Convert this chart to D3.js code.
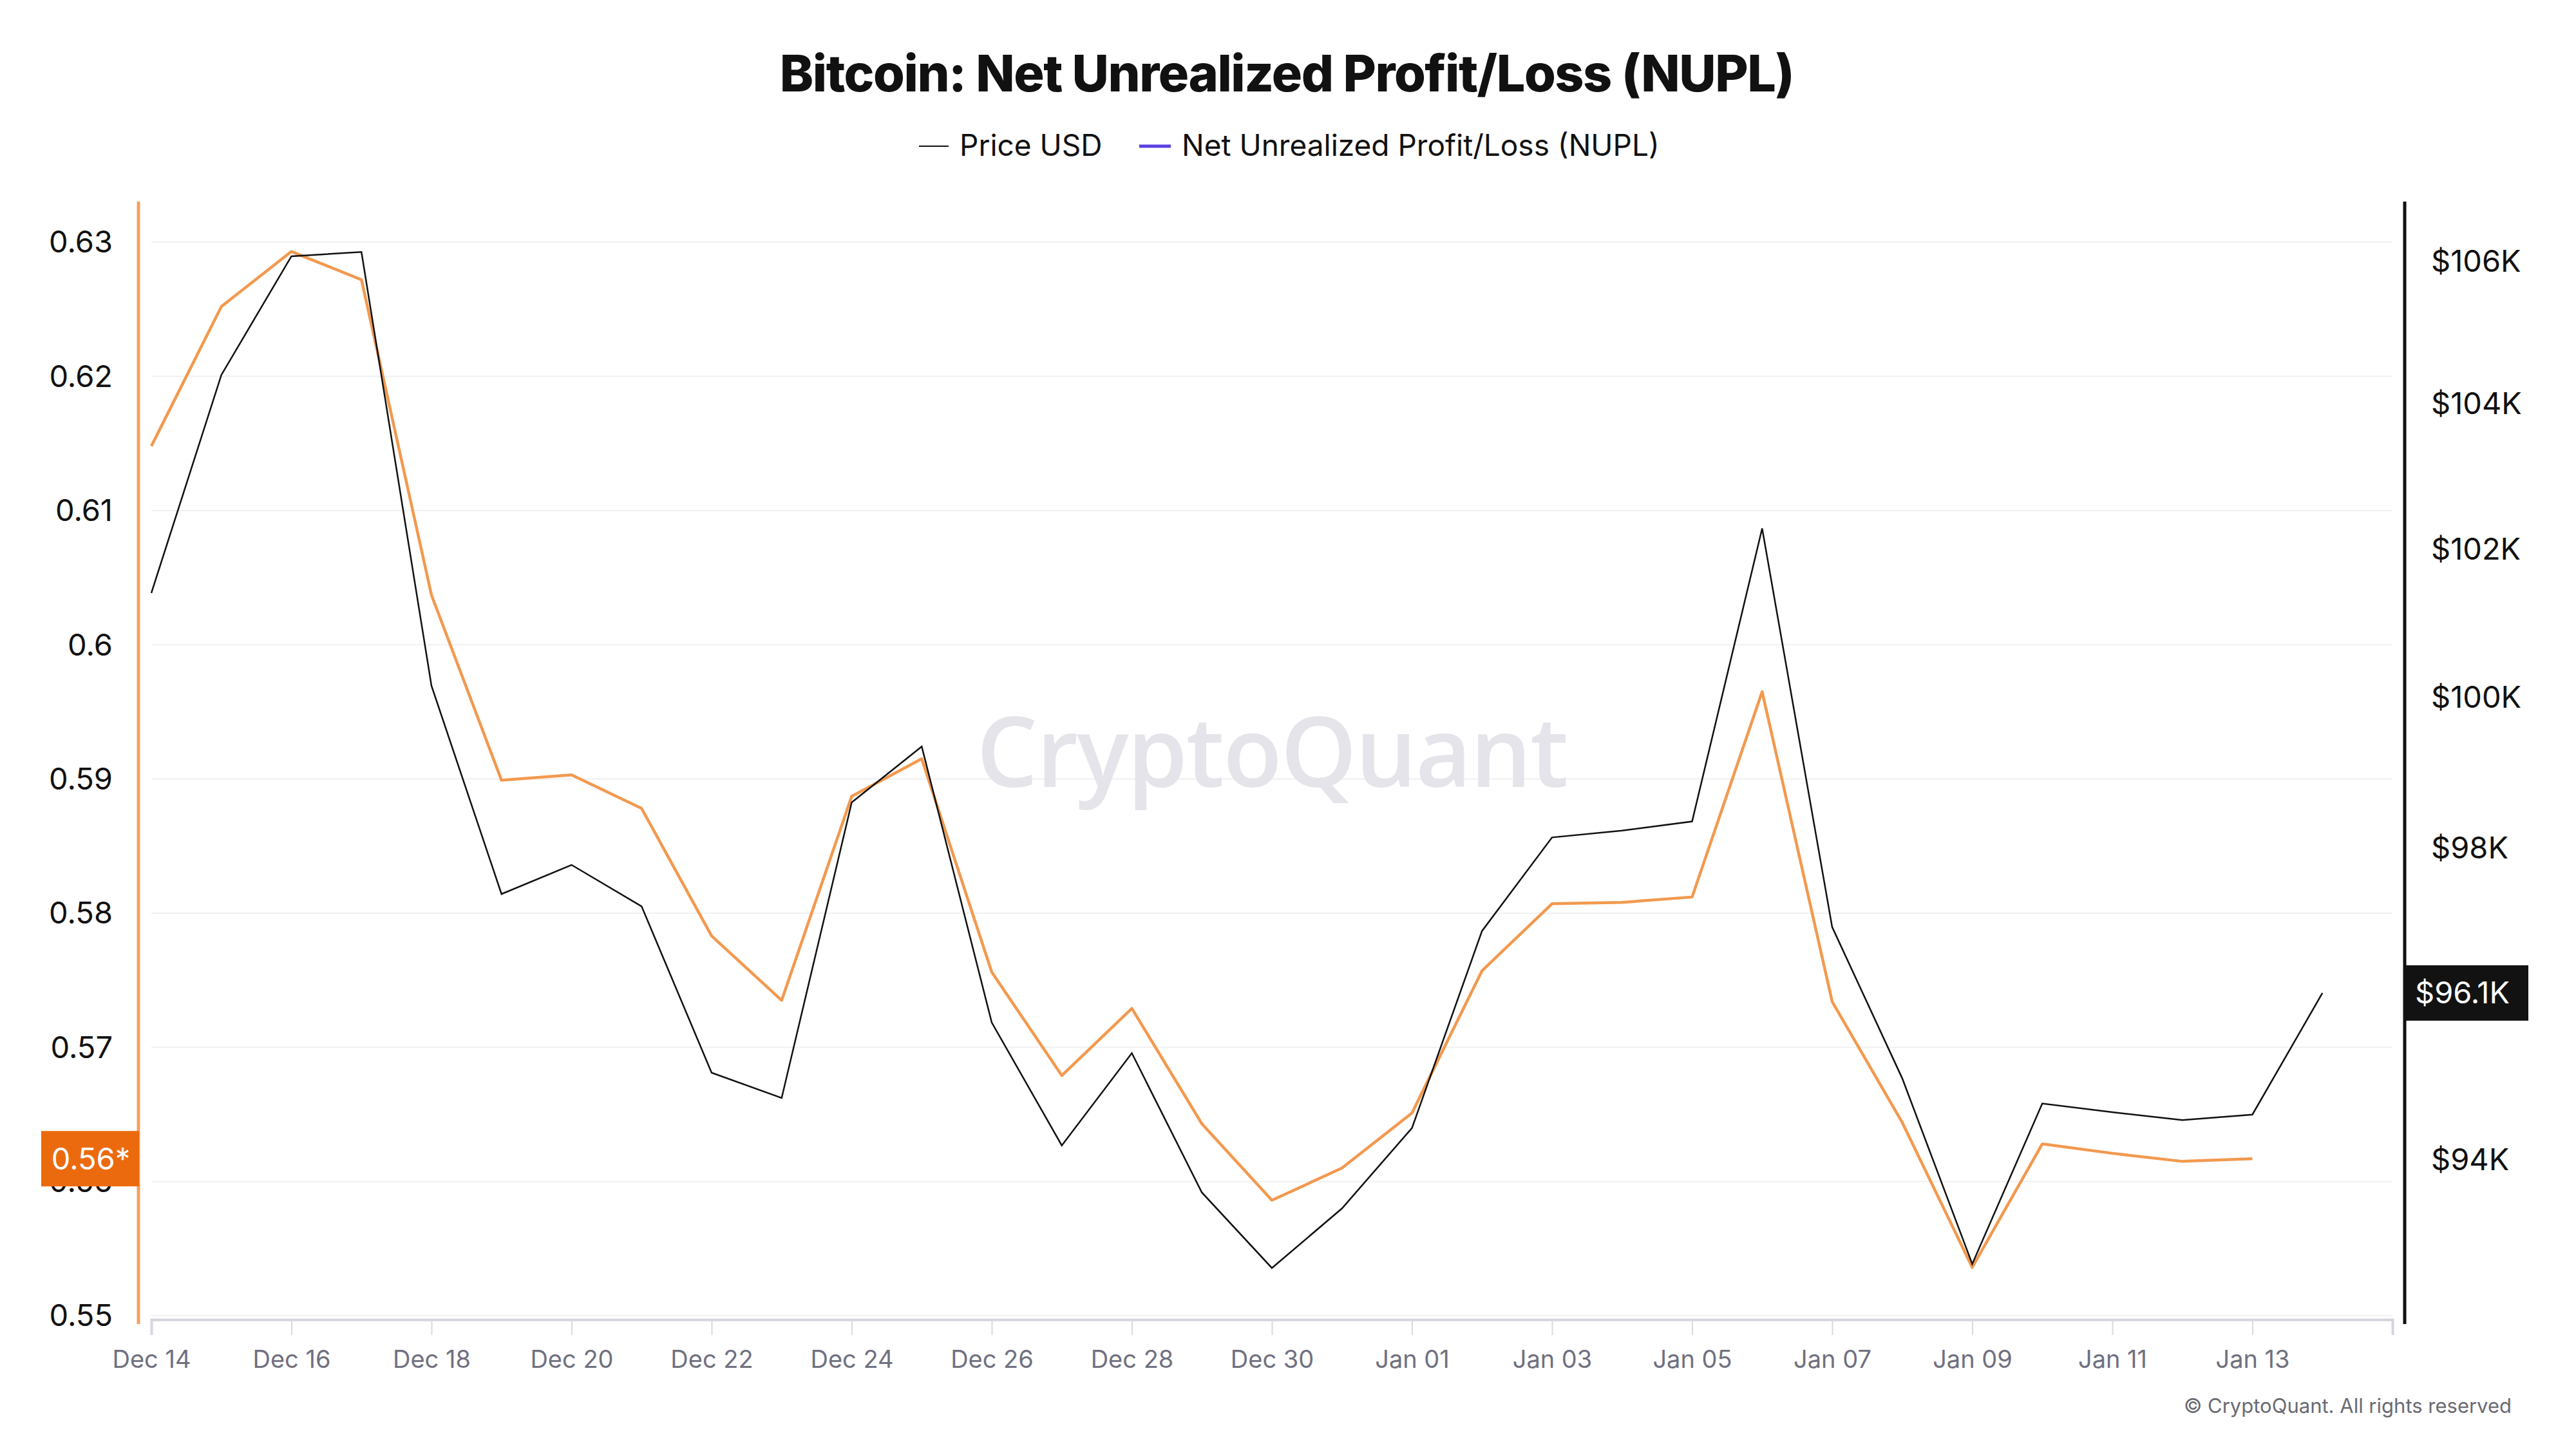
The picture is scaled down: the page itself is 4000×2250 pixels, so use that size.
<!DOCTYPE html>
<html>
<head>
<meta charset="utf-8">
<script src="https://cdn.jsdelivr.net/npm/d3@7"></script>
<style>
  body { margin: 0; background: #fff; }
  svg { display: block; font-family: Inter, "Noto Sans", sans-serif; }
</style>
</head>
<body>
<svg id="chart" width="4000" height="2250"></svg>
<script>
// daily values, Dec 14 2024 -> Jan 14 2025
const firstDay = '2024-12-14';
const priceUsd = [
  101400, 104400, 106070, 106130, 100150, 97400, 97780, 97240, 95100, 94780,
  98600, 99340, 95740, 94180, 95350, 93590, 92650, 93390, 94400, 96920,
  98140, 98230, 98350, 102280, 96970, 95030, 92700, 94710, 94600, 94500,
  94570, 96120
];
const nupl = [
  0.6148, 0.6252, 0.6293, 0.6272, 0.6037, 0.5899, 0.5903, 0.5878, 0.5783, 0.5735,
  0.5887, 0.5915, 0.5756, 0.5679, 0.5729, 0.5643, 0.5586, 0.5610, 0.5651, 0.5757,
  0.5807, 0.5808, 0.5812, 0.5965, 0.5734, 0.5644, 0.5536, 0.5628, 0.5621, 0.5615,
  0.5617
];
const nuplTicks = [0.55, 0.56, 0.57, 0.58, 0.59, 0.60, 0.61, 0.62, 0.63];
// $96K sits under the last-price badge, so it is not drawn
const priceTicks = [94000, 98000, 100000, 102000, 104000, 106000];
const legendItems = ['Price USD', 'Net Unrealized Profit/Loss (NUPL)'];

const svg = d3.select('#chart');
const width = 4000, height = 2250;
const plot = { left: 235, right: 3715, top: 376, bottom: 2043 };

const start = d3.utcParse('%Y-%m-%d')(firstDay);
const days = d3.utcDay.range(start, d3.utcDay.offset(start, priceUsd.length));
const priceData = priceUsd.map((v, i) => ({ date: days[i], value: v }));
const nuplData = nupl.map((v, i) => ({ date: days[i], value: v }));

const xScale = d3.scaleUtc()
    .domain([start, d3.utcDay.offset(start, 32)])
    .range([plot.left, plot.right]);
const yLeft = d3.scaleLinear()
    .domain([0.55, 0.63])
    .range([plot.bottom, plot.top]);
const yRight = d3.scaleLog()
    .domain([92061, 106270])
    .range([plot.bottom, plot.top]);

svg.append('rect').attr('width', width).attr('height', height).attr('fill', '#fff');

// Title
svg.append('text')
    .attr('x', 1998).attr('y', 142)
    .attr('text-anchor', 'middle')
    .style('font-size', '79px').style('font-weight', 800)
    .style('letter-spacing', '-1.5px')
    .style('fill', '#111')
    .text('Bitcoin: Net Unrealized Profit/Loss (NUPL)');

// Legend
const legend = svg.append('g');
legend.append('line').attr('x1', 1427).attr('x2', 1473).attr('y1', 227).attr('y2', 227)
    .attr('stroke', '#111').attr('stroke-width', 2);
legend.append('text').attr('x', 1490).attr('y', 242)
    .style('font-size', '46px').style('fill', '#111').text(legendItems[0]);
legend.append('line').attr('x1', 1769).attr('x2', 1818).attr('y1', 227).attr('y2', 227)
    .attr('stroke', '#5b3fe0').attr('stroke-width', 5);
legend.append('text').attr('x', 1835).attr('y', 242)
    .style('font-size', '46px').style('fill', '#111').text(legendItems[1]);

// Gridlines
svg.append('g')
    .selectAll('line')
    .data(nuplTicks)
    .enter()
    .append('line')
    .attr('x1', plot.left).attr('x2', plot.right)
    .attr('y1', d => yLeft(d)).attr('y2', d => yLeft(d))
    .attr('stroke', '#f0f0f2').attr('stroke-width', 2);

// Watermark
svg.append('text')
    .attr('x', 1975).attr('y', 1222)
    .attr('text-anchor', 'middle')
    .style('font-family', '"Open Sans", sans-serif')
    .style('font-size', '150px').style('font-weight', 600)
    .style('letter-spacing', '-2px')
    .style('fill', '#e4e4ea')
    .text('CryptoQuant');

// Bottom axis
const tickDays = days.filter((d, i) => i % 2 === 0 && i < 31);
const xAxis = svg.append('g')
    .attr('transform', `translate(0,${plot.bottom + 6})`)
    .call(d3.axisBottom(xScale)
        .tickValues(tickDays)
        .tickFormat(d3.utcFormat('%b %d'))
        .tickSize(24)
        .tickPadding(24));
xAxis.select('.domain').attr('stroke', '#d3d3de').attr('stroke-width', 4);
xAxis.selectAll('.tick line').attr('stroke', '#d9d9e0').attr('stroke-width', 2);
xAxis.selectAll('.tick text')
    .style('font-size', '38px').style('fill', '#70707f')
    .style('font-family', 'Inter, sans-serif');

// Left axis (NUPL)
svg.append('line')
    .attr('x1', 215).attr('x2', 215).attr('y1', 313).attr('y2', 2056)
    .attr('stroke', '#f4a060').attr('stroke-width', 5);
svg.append('g')
    .selectAll('text')
    .data(nuplTicks)
    .enter()
    .append('text')
    .attr('x', 175)
    .attr('y', d => yLeft(d))
    .attr('dy', '0.35em')
    .attr('text-anchor', 'end')
    .style('font-size', '47px').style('fill', '#111')
    .text(d => String(+d.toFixed(2)));

// Right axis (Price)
svg.append('line')
    .attr('x1', 3734).attr('x2', 3734).attr('y1', 313).attr('y2', 2056)
    .attr('stroke', '#111').attr('stroke-width', 5);
svg.append('g')
    .selectAll('text')
    .data(priceTicks)
    .enter()
    .append('text')
    .attr('x', 3775)
    .attr('y', d => yRight(d))
    .attr('dy', '0.35em')
    .style('font-size', '47px').style('fill', '#111')
    .text(d => '$' + d / 1000 + 'K');

// Lines
const nuplLine = d3.line().x(d => xScale(d.date)).y(d => yLeft(d.value));
const priceLine = d3.line().x(d => xScale(d.date)).y(d => yRight(d.value));

svg.append('path')
    .datum(nuplData)
    .attr('d', nuplLine)
    .attr('fill', 'none')
    .attr('stroke', '#f2994f')
    .attr('stroke-width', 4.5)
    .attr('stroke-linejoin', 'round');
svg.append('path')
    .datum(priceData)
    .attr('d', priceLine)
    .attr('fill', 'none')
    .attr('stroke', '#111')
    .attr('stroke-width', 2.5);

// Last value badges
const lastNupl = nupl[nupl.length - 1];
const yN = yLeft(lastNupl);
svg.append('rect').attr('x', 64).attr('y', yN - 43).attr('width', 152).attr('height', 86)
    .attr('fill', '#ec6a0e');
svg.append('text').attr('x', 141).attr('y', yN).attr('dy', '0.35em')
    .attr('text-anchor', 'middle')
    .style('font-size', '47px').style('fill', '#fff')
    .text(lastNupl.toFixed(2) + '*');

const lastPrice = priceUsd[priceUsd.length - 1];
const yP = yRight(lastPrice);
svg.append('rect').attr('x', 3733).attr('y', yP - 43).attr('width', 193).attr('height', 86)
    .attr('fill', '#121212');
svg.append('text').attr('x', 3750).attr('y', yP).attr('dy', '0.35em')
    .style('font-size', '47px').style('fill', '#fff')
    .text('$' + (lastPrice / 1000).toFixed(1) + 'K');

// Footer
svg.append('text')
    .attr('x', 3900).attr('y', 2194)
    .attr('text-anchor', 'end')
    .style('font-size', '31px').style('fill', '#6a6a72')
    .text('\u00A9 CryptoQuant. All rights reserved');
</script>
</body>
</html>
